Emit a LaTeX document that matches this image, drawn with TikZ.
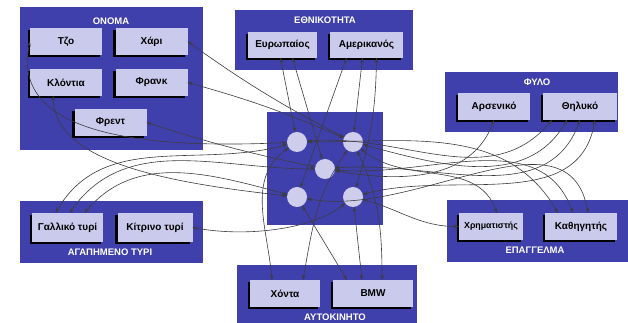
\documentclass[tikz,border=0pt]{standalone}
\usepackage{fontspec}
\setmainfont{Liberation Sans}
\usetikzlibrary{arrows.meta,shadows}
\begin{document}
\begin{tikzpicture}[x=1pt,y=1pt,
  panel/.style={fill=panelColor},
  title/.style={text=white,inner sep=0pt,outer sep=0pt,font=\fontsize{9.5}{10}\selectfont\bfseries},
  attr/.style={fill=boxColor,inner sep=0pt,outer sep=0pt,minimum width=72pt,minimum height=27pt,
    font=\fontsize{10}{11}\selectfont\bfseries,
    drop shadow={shadow xshift=-2.5pt,shadow yshift=-2.5pt,fill=black,opacity=1}},
  unit/.style={circle,fill=unitColor,inner sep=0pt,outer sep=0pt,minimum size=20pt},
  link/.style={draw=drawColor,line width=0.6pt,{Stealth[length=5pt,width=3.5pt]}-{Stealth[length=5pt,width=3.5pt]}}]
\definecolor{fillColor}{RGB}{255,255,255}
\definecolor{panelColor}{RGB}{64,64,172}
\definecolor{boxColor}{RGB}{202,202,236}
\definecolor{unitColor}{RGB}{206,206,236}
\definecolor{drawColor}{RGB}{60,60,64}
\path[use as bounding box,fill=fillColor] (0,0) rectangle (628,323);

\path[panel] ( 20,173) rectangle (203,316);

\path[panel] (235,253) rectangle (413,313);

\path[panel] (445,191) rectangle (618,251);

\path[panel] ( 20, 60) rectangle (203,122);

\path[panel] (447, 61) rectangle (628,123);

\path[panel] (237,  0) rectangle (417, 58);

\path[panel] (267, 98) rectangle (383,211);

\node[title] (tOnoma) at (111,302) {ΟΝΟΜΑ};

\node[title] (tEthn) at (325,303) {ΕΘΝΙΚΟΤΗΤΑ};

\node[title] (tFylo) at (537,241) {ΦΥΛΟ};

\node[title] (tTyri) at (110, 71) {ΑΓΑΠΗΜΕΝΟ ΤΥΡΙ};

\node[title] (tEpag) at (535, 73) {ΕΠΑΓΓΕΛΜΑ};

\node[title] (tAuto) at (335,  6) {ΑΥΤΟΚΙΝΗΤΟ};

\node[attr] (Tzo) at ( 66,281.5) {Τζο};

\node[attr] (Xari) at (151.5,281.5) {Χάρι};

\node[attr] (Klontia) at ( 66,240.5) {Κλόντια};

\node[attr] (Frank) at (151.5,240.5) {Φρανκ};

\node[attr] (Frent) at (110.5,200.5) {Φρεντ};

\node[attr,minimum width=69pt,minimum height=26pt] (Evr) at (282.5,278) {Ευρωπαίος};

\node[attr,minimum width=73pt,minimum height=26pt] (Amer) at (366.5,278) {Αμερικανός};

\node[attr] (Arsen) at (494,216.5) {Αρσενικό};

\node[attr,minimum width=74pt] (Thil) at (580,216.5) {Θηλυκό};

\node[attr,minimum width=71pt,minimum height=29pt] (Gall) at ( 67.5, 95.5) {Γαλλικό τυρί};

\node[attr,minimum width=75pt,minimum height=29pt] (Kitr) at (155, 95.5) {Κίτρινο τυρί};

\node[attr,minimum width=64pt,font=\fontsize{8.8}{10}\selectfont\bfseries] (Xrim) at (491, 96.5) {Χρηματιστής};

\node[attr] (Kath) at (581, 96.5) {Καθηγητής};

\node[attr,minimum width=70pt] (Honda) at (285, 29.5) {Χόντα};

\node[attr,minimum width=80pt] (BMW) at (373, 29.5) {BMW};

\node[unit] (u1) at (297,181) {};

\node[unit] (u2) at (353,181) {};

\node[unit] (u3) at (325,154) {};

\node[unit] (u4) at (297,126) {};

\node[unit] (u5) at (353,126) {};

\draw[link] (Xari.east) to[bend right=4] (u2);

\draw[link] (Frank.east) to[bend left=4] (u2);

\draw[link] (Frent.east) to[bend right=3] (u3);

\draw[link] (Tzo.west) .. controls (12,200) and (110,172) .. (u1);

\draw[link] ([xshift=-13pt]Klontia.south) .. controls (55,160) and (170,140) .. (u4);

\draw[link] ([xshift=-2pt]Evr.south) -- (u1);

\draw[link] ([xshift=10pt]Evr.south) -- (u3);

\draw[link] ([xshift=-20pt]Amer.south) -- (u4);

\draw[link] ([xshift=-4pt]Amer.south) -- (u2);

\draw[link] ([xshift=10pt]Amer.south) to[bend left=8] (u5);

\draw[link] (u3) to[out=-10,in=-110] (Arsen.south);

\draw[link] (u1) to[out=5,in=-130] ([xshift=-28pt]Thil.south);

\draw[link] (u2) to[out=-15,in=-120] ([xshift=-13pt]Thil.south);

\draw[link] (u3) to[out=5,in=-110] (Thil.south);

\draw[link] (u5) to[out=15,in=-100] ([xshift=15pt]Thil.south);

\draw[link] (u1) to[out=195,in=60] ([xshift=-12pt]Gall.north);

\draw[link] (u3) to[out=180,in=55] ([xshift=2pt]Gall.north);

\draw[link] (u4) to[out=165,in=50] ([xshift=17pt]Gall.north);

\draw[link] (Kitr.east) .. controls (250,85) and (315,95) .. (u5);

\draw[link] (u2) to[out=-40,in=110] ([xshift=6pt]Xrim.north);

\draw[link] (u5) to[out=-15,in=180] (Xrim.west);

\draw[link] (u1) to[out=0,in=120] ([xshift=-23pt]Kath.north);

\draw[link] (u3) to[out=-5,in=110] ([xshift=-8pt]Kath.north);

\draw[link] (u4) to[out=-10,in=100] ([xshift=7pt]Kath.north);

\draw[link] (u1) to[out=215,in=95] ([xshift=-13pt]Honda.north);

\draw[link] (u2) to[out=235,in=80] ([xshift=18pt]Honda.north);

\draw[link] (u4) -- ([xshift=-26pt]BMW.north);

\draw[link] (u5) -- ([xshift=-11pt]BMW.north);

\draw[link] (u2) to[out=-65,in=90] ([xshift=9pt]BMW.north);
\end{tikzpicture}
\end{document}
